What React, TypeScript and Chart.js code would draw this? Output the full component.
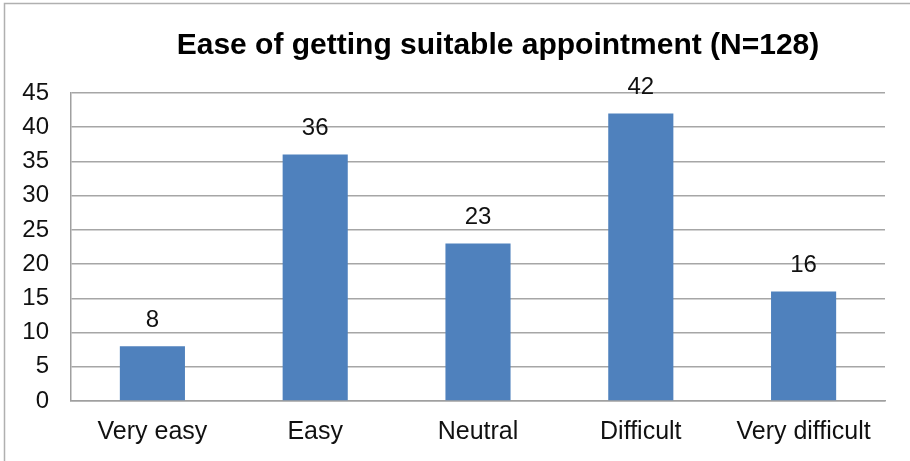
import React, { useEffect, useRef } from "react";
import { Chart, registerables } from "chart.js";

Chart.register(...registerables);

const categories = ["Very easy", "Easy", "Neutral", "Difficult", "Very difficult"];
const counts = [8, 36, 23, 42, 16];
const titleText = "Ease of getting suitable appointment (N=128)";

const FONT = "'Liberation Sans', Arial, sans-serif";

const decorPlugin = {
  id: "decor",
  beforeDraw(chart: any) {
    const ctx = chart.ctx;
    ctx.save();
    ctx.strokeStyle = "#b0b0b0";
    ctx.lineWidth = 1.5;
    ctx.beginPath();
    ctx.moveTo(4.5, chart.height);
    ctx.lineTo(4.5, 3.5);
    ctx.lineTo(chart.width, 3.5);
    ctx.stroke();
    ctx.restore();
  },
  afterDraw(chart: any) {
    const ctx = chart.ctx;
    ctx.save();
    ctx.fillStyle = "#000";
    ctx.font = `bold 30px ${FONT}`;
    ctx.textAlign = "center";
    ctx.textBaseline = "middle";
    ctx.fillText(titleText, 498, 46);
    const meta = chart.getDatasetMeta(0);
    ctx.font = `24px ${FONT}`;
    ctx.fillStyle = "#111";
    meta.data.forEach((bar: any, i: number) => {
      ctx.fillText(String(counts[i]), bar.x, bar.y - 26);
    });
    ctx.restore();
  },
};

export default function App() {
  const ref = useRef<HTMLCanvasElement>(null);
  useEffect(() => {
    document.body.style.margin = "0";
    const chart = new Chart(ref.current!, {
      type: "bar",
      data: {
        labels: categories,
        datasets: [
          {
            data: counts,
            backgroundColor: "#4f81bd",
            borderWidth: 0,
            categoryPercentage: 0.4,
            barPercentage: 1,
          },
        ],
      },
      options: {
        animation: false,
        responsive: false,
        layout: { padding: { top: 93, right: 25, left: 0, bottom: 0 } },
        plugins: { legend: { display: false }, title: { display: false }, tooltip: { enabled: false } },
        scales: {
          x: {
            grid: { display: false, drawTicks: false },
            border: { color: "#a0a0a0", width: 1.5 },
            ticks: { color: "#111", font: { family: FONT, size: 25 }, padding: 16, maxRotation: 0 },
            afterFit: (s: any) => { s.height = 60; },
          },
          y: {
            min: 0,
            max: 45,
            grid: { color: "#a6a6a6", lineWidth: 1.5, drawTicks: false },
            border: { color: "#a0a0a0", width: 1.5 },
            ticks: { stepSize: 5, color: "#111", font: { family: FONT, size: 24 }, padding: 22 },
            afterFit: (s: any) => { s.width = 71; },
          },
        },
      },
      plugins: [decorPlugin],
    });
    return () => chart.destroy();
  }, []);
  return <canvas ref={ref} width={910} height={461} style={{ display: "block" }} />;
}
